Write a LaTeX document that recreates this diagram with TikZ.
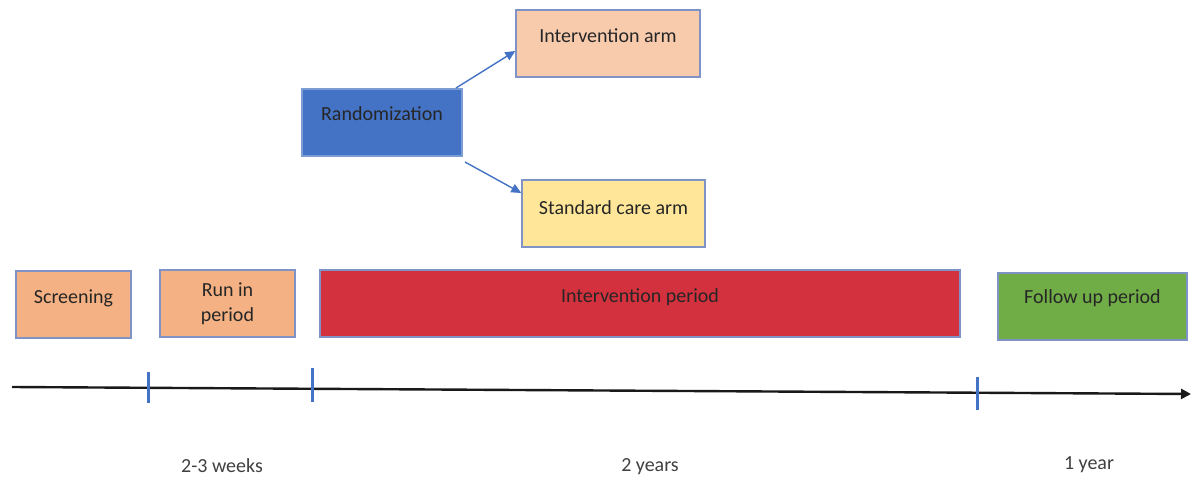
\documentclass[tikz,border=0pt]{standalone}
\usepackage{fontspec}
\setmainfont{Carlito}
\usetikzlibrary{arrows.meta}
\definecolor{bordc}{HTML}{7F93C6}
\definecolor{peachA}{HTML}{F8CBAD}
\definecolor{randc}{HTML}{4472C4}
\definecolor{stdc}{HTML}{FFE699}
\definecolor{scrc}{HTML}{F4B183}
\definecolor{redc}{HTML}{D3313D}
\definecolor{grnc}{HTML}{70AD47}
\definecolor{txtc}{HTML}{262626}
\definecolor{lblc}{HTML}{404040}
\definecolor{tickc}{HTML}{4472C4}
\tikzset{
  x=1pt, y=-1pt,
  boxshape/.style={draw=bordc, line width=1.4pt, inner sep=0pt},
  boxtext/.style={font=\fontsize{20}{24}\selectfont, text=txtc, inner sep=0pt, align=center},
  lbltext/.style={font=\fontsize{20}{24}\selectfont, text=lblc, inner sep=0pt},
  arm/.style={draw=randc, line width=1.4pt, -{Triangle[length=10pt,width=9pt]}},
  tickmark/.style={draw=tickc, line width=3pt},
}
\begin{document}
\begin{tikzpicture}
\useasboundingbox (0,0) rectangle (1192,478);
\fill[white] (0,0) rectangle (1192,478);

% top boxes
\node[boxshape, fill=peachA, minimum width=184pt, minimum height=67pt] (ia) at (608,43.5) {};
\node[boxtext] (iat) at (608,36) {Intervention arm};
\node[boxshape, fill=randc, draw=randc!70!white, minimum width=160pt, minimum height=67pt] (rand) at (382,122.5) {};
\node[boxtext] (randt) at (382,114) {Randomization};
\node[boxshape, fill=stdc, minimum width=183pt, minimum height=67pt] (sc) at (613.5,213.5) {};
\node[boxtext] (sct) at (613.5,208) {Standard care arm};

\coordinate (r1) at (456,88);
\coordinate (r2) at (465,162);
\draw[arm] (r1) -- (ia.west |- 0,51);
\draw[arm] (r2) -- (sc.west |- 0,193);

% phase boxes
\node[boxshape, fill=scrc, minimum width=115pt, minimum height=67pt] (scr) at (73.5,304.5) {};
\node[boxtext] (scrt) at (73.5,298) {Screening};
\node[boxshape, fill=scrc, minimum width=135pt, minimum height=67pt] (run) at (227.5,303.5) {};
\node[boxtext, font=\fontsize{20}{25}\selectfont] (runt) at (227.5,303.5) {Run in\\period};
\node[boxshape, fill=redc, minimum width=640pt, minimum height=67pt] (ip) at (640,303.5) {};
\node[boxtext, text=black!85] (ipt) at (640,297) {Intervention period};
\node[boxshape, fill=grnc, minimum width=189pt, minimum height=67pt] (fu) at (1092.5,306.5) {};
\node[boxtext] (fut) at (1092.5,298) {Follow up period};

% timeline
\coordinate (ts) at (12,387);
\coordinate (te) at (1191,394);
\draw[line width=2.4pt, black!90, -{Triangle[length=10pt,width=10pt]}] (ts) -- (te);
\draw[tickmark] (148,372) -- (148,403);
\draw[tickmark] (312,368) -- (312,402);
\draw[tickmark] (977,377) -- (977,410);

% duration labels
\node[lbltext] (l1) at (222,466) {2-3 weeks};
\node[lbltext] (l2) at (650,467) {2 years};
\node[lbltext] (l3) at (1089,465) {1 year};
\end{tikzpicture}
\end{document}
